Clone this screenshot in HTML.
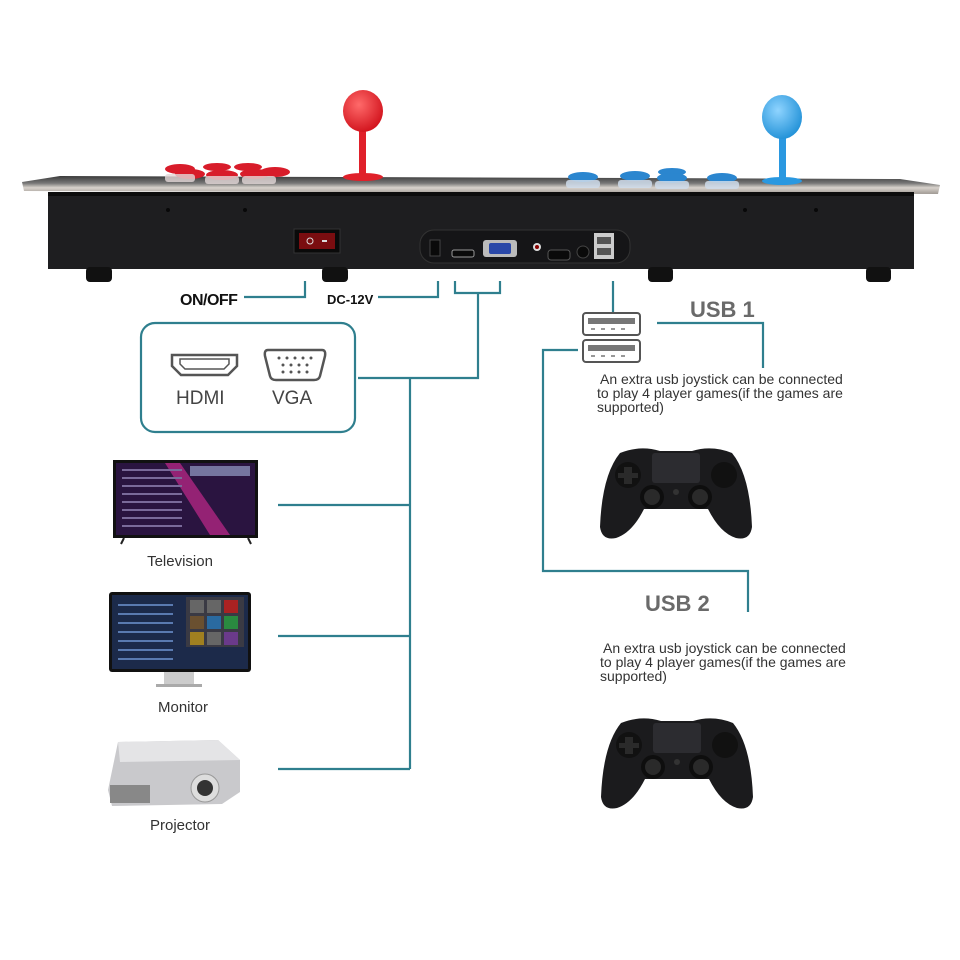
<!DOCTYPE html>
<html><head><meta charset="utf-8"><style>
html,body{margin:0;padding:0;background:#fff;}
svg{display:block;}
text{font-family:"Liberation Sans",sans-serif;}
</style></head><body>
<svg width="960" height="960" viewBox="0 0 960 960" xmlns="http://www.w3.org/2000/svg">
<defs>
<linearGradient id="silver" x1="0" y1="0" x2="0" y2="1">
<stop offset="0" stop-color="#3a3a3a"/><stop offset="0.4" stop-color="#777"/><stop offset="0.65" stop-color="#d8d2cc"/><stop offset="1" stop-color="#a09a94"/></linearGradient>
<radialGradient id="red" cx="0.4" cy="0.35" r="0.7"><stop offset="0" stop-color="#ff6a6a"/><stop offset="1" stop-color="#d0101a"/></radialGradient>
<radialGradient id="blue" cx="0.4" cy="0.35" r="0.7"><stop offset="0" stop-color="#8fd4ff"/><stop offset="1" stop-color="#1e8fd6"/></radialGradient>
<g id="pad">
<path d="M20,8 Q40,0 60,6 L92,6 Q112,0 132,8 Q150,30 152,82 Q150,96 136,93 Q120,88 108,64 L44,64 Q32,88 16,93 Q2,96 0,82 Q2,30 20,8 Z" fill="#1b1b1d"/>
<rect x="52" y="8" width="48" height="30" rx="3" fill="#2c2c30"/>
<circle cx="28" cy="30" r="13" fill="#111"/><path d="M24,22h8v6h6v5h-6v6h-8v-6h-6v-5h6z" fill="#2a2a2a"/>
<circle cx="124" cy="30" r="13" fill="#111"/>
<circle cx="52" cy="52" r="12" fill="#0e0e0e"/><circle cx="52" cy="52" r="8" fill="#2a2a2a"/>
<circle cx="100" cy="52" r="12" fill="#0e0e0e"/><circle cx="100" cy="52" r="8" fill="#2a2a2a"/>
<circle cx="76" cy="47" r="3" fill="#333"/>
</g>
<g id="usb"><rect x="0" y="0" width="57" height="22" rx="3" fill="#fff" stroke="#555" stroke-width="2"/><rect x="5" y="5" width="47" height="6" fill="#777"/><path d="M8,16h4M18,16h4M28,16h4M38,16h4" stroke="#777" stroke-width="1.5"/></g>
</defs>

<!-- console top -->
<path d="M22,182 L60,176 L900,179 L940,185 L938,194 L24,191 Z" fill="url(#silver)"/>
<!-- red buttons -->
<g fill="#d81c2a">
<ellipse cx="180" cy="169" rx="15" ry="5"/><ellipse cx="217" cy="167" rx="14" ry="4"/><ellipse cx="248" cy="167" rx="14" ry="4"/>
<ellipse cx="190" cy="174" rx="15" ry="5"/><ellipse cx="222" cy="175" rx="16" ry="5"/><ellipse cx="255" cy="174" rx="15" ry="5"/><ellipse cx="275" cy="172" rx="15" ry="5"/>
</g>
<g fill="#e4d8d8" opacity="0.8"><rect x="165" y="174" width="30" height="8" rx="3"/><rect x="205" y="176" width="34" height="8" rx="3"/><rect x="242" y="176" width="34" height="8" rx="3"/></g>
<!-- blue buttons -->
<g fill="#2b86cf">
<ellipse cx="583" cy="177" rx="15" ry="5"/><ellipse cx="635" cy="176" rx="15" ry="5"/><ellipse cx="672" cy="172" rx="14" ry="4"/><ellipse cx="672" cy="178" rx="15" ry="5"/><ellipse cx="722" cy="178" rx="15" ry="5"/>
</g>
<g fill="#cfdceb" opacity="0.85"><rect x="566" y="180" width="34" height="8" rx="3"/><rect x="618" y="180" width="34" height="8" rx="3"/><rect x="655" y="181" width="34" height="8" rx="3"/><rect x="705" y="181" width="34" height="8" rx="3"/></g>
<!-- joysticks -->
<rect x="359" y="122" width="7" height="55" fill="#e0202a"/><ellipse cx="363" cy="177" rx="20" ry="4" fill="#e0202a"/>
<ellipse cx="363" cy="111" rx="20" ry="21" fill="url(#red)"/>
<rect x="779" y="127" width="7" height="55" fill="#2a98e0"/><ellipse cx="782" cy="181" rx="20" ry="4" fill="#2a98e0"/>
<ellipse cx="782" cy="117" rx="20" ry="22" fill="url(#blue)"/>
<!-- black box -->
<rect x="48" y="192" width="866" height="77" fill="#1e1e20"/>
<rect x="48" y="192" width="866" height="4" fill="#0c0c0c"/>
<g fill="#111"><rect x="86" y="267" width="26" height="15" rx="4"/><rect x="322" y="267" width="26" height="15" rx="4"/><rect x="648" y="267" width="25" height="15" rx="4"/><rect x="866" y="267" width="25" height="15" rx="4"/></g>
<g fill="#080808"><circle cx="168" cy="210" r="2"/><circle cx="245" cy="210" r="2"/><circle cx="745" cy="210" r="2"/><circle cx="816" cy="210" r="2"/></g>
<!-- switch -->
<rect x="294" y="229" width="46" height="24" fill="#0a0a0a" stroke="#333"/>
<rect x="299" y="233" width="36" height="16" fill="#7a0d10"/>
<circle cx="310" cy="241" r="3" fill="none" stroke="#ddd"/><rect x="322" y="240" width="5" height="2" fill="#ddd"/>
<!-- port panel -->
<rect x="420" y="230" width="210" height="33" rx="14" fill="#151517" stroke="#333"/>
<rect x="430" y="240" width="10" height="16" fill="#0a0a0a" stroke="#444"/>
<rect x="452" y="250" width="22" height="7" rx="2" fill="#0a0a0a" stroke="#999"/>
<rect x="483" y="240" width="34" height="17" rx="3" fill="#bbb"/><rect x="489" y="243" width="22" height="11" rx="2" fill="#2a48a8"/>
<circle cx="537" cy="247" r="4" fill="#ddd"/><circle cx="537" cy="247" r="2" fill="#800"/>
<rect x="548" y="250" width="22" height="10" rx="3" fill="#0a0a0a" stroke="#555"/>
<circle cx="583" cy="252" r="6" fill="#0a0a0a" stroke="#444"/>
<rect x="594" y="233" width="20" height="26" fill="#ccc"/><rect x="597" y="237" width="14" height="7" fill="#555"/><rect x="597" y="248" width="14" height="7" fill="#555"/>

<!-- connectors -->
<g fill="none" stroke="#2f7f8e" stroke-width="2.2">
<path d="M244,297 H305 V281"/>
<path d="M378,297 H438 V281"/>
<path d="M455,281 V293 H500 V281"/>
<path d="M478,293 V378 H358"/>
<path d="M410,378 V769"/>
<path d="M278,505 H410 M278,636 H410 M278,769 H410"/>
<path d="M613,281 V313"/>
<path d="M657,323 H763 V368"/>
<path d="M578,350 H543 V571 H748 V612"/>
</g>
<text x="180" y="305" font-size="16" font-weight="bold" fill="#111" style="letter-spacing:-0.5px">ON/OFF</text>
<text x="327" y="304" font-size="13" font-weight="bold" fill="#111">DC-12V</text>

<!-- HDMI VGA box -->
<rect x="141" y="323" width="214" height="109" rx="14" fill="#fff" stroke="#2f7f8e" stroke-width="2.2"/>
<path d="M172,355 H237 V366 L228,375 H181 L172,366 Z" fill="none" stroke="#555" stroke-width="2.5"/>
<path d="M180,359 H229 V364 L224,369 H185 L180,364 Z" fill="none" stroke="#555" stroke-width="1.5"/>
<path d="M268,350 H322 Q326,350 325,356 L320,376 Q319,380 314,380 H276 Q271,380 270,376 L265,356 Q264,350 268,350 Z" fill="none" stroke="#555" stroke-width="2.5"/>
<g fill="#555"><circle cx="279" cy="358" r="1.5"/><circle cx="287" cy="358" r="1.5"/><circle cx="295" cy="358" r="1.5"/><circle cx="303" cy="358" r="1.5"/><circle cx="311" cy="358" r="1.5"/>
<circle cx="283" cy="365" r="1.5"/><circle cx="291" cy="365" r="1.5"/><circle cx="299" cy="365" r="1.5"/><circle cx="307" cy="365" r="1.5"/>
<circle cx="283" cy="372" r="1.5"/><circle cx="291" cy="372" r="1.5"/><circle cx="299" cy="372" r="1.5"/><circle cx="307" cy="372" r="1.5"/></g>
<text x="176" y="404" font-size="19" fill="#444">HDMI</text>
<text x="272" y="404" font-size="19" fill="#444">VGA</text>

<!-- USB -->
<use href="#usb" x="583" y="313"/>
<use href="#usb" x="583" y="340"/>
<text x="690" y="317" font-size="22" font-weight="bold" fill="#6a6a6a">USB 1</text>
<text x="645" y="611" font-size="22" font-weight="bold" fill="#6a6a6a">USB 2</text>
<g font-size="14" fill="#333">
<text x="600" y="384"> An extra usb joystick can be connected</text>
<text x="597" y="398">to play 4 player games(if the games are</text>
<text x="597" y="412">supported)</text>
<text x="603" y="653"> An extra usb joystick can be connected</text>
<text x="600" y="667">to play 4 player games(if the games are</text>
<text x="600" y="681">supported)</text>
</g>
<use href="#pad" x="600" y="445"/>
<use href="#pad" x="601" y="715"/>

<!-- TV -->
<rect x="113" y="460" width="145" height="78" fill="#111"/>
<rect x="116" y="463" width="139" height="72" fill="#2a1440"/>
<path d="M180,463 L230,535 L210,535 L165,463 Z" fill="#c2288a" opacity="0.7"/>
<rect x="190" y="466" width="60" height="10" fill="#a9b5e0" opacity="0.6"/>
<g stroke="#7a6a9a" stroke-width="2"><path d="M122,470h60M122,478h60M122,486h60M122,494h60M122,502h60M122,510h60M122,518h60M122,526h60"/></g>
<path d="M124,538 l-3,6 M248,538 l3,6" stroke="#222" stroke-width="2"/>
<text x="180" y="566" font-size="15" fill="#333" text-anchor="middle">Television</text>

<!-- Monitor -->
<rect x="109" y="592" width="142" height="80" rx="3" fill="#111"/>
<rect x="112" y="595" width="136" height="74" fill="#1c2a4a"/>
<rect x="186" y="597" width="58" height="50" fill="#3a3a44"/>
<g fill="#666"><rect x="190" y="600" width="14" height="13"/><rect x="207" y="600" width="14" height="13"/><rect x="224" y="600" width="14" height="13" fill="#a22"/><rect x="190" y="616" width="14" height="13" fill="#6a5030"/><rect x="207" y="616" width="14" height="13" fill="#2a6aa0"/><rect x="224" y="616" width="14" height="13" fill="#2a8a40"/><rect x="190" y="632" width="14" height="13" fill="#a08020"/><rect x="207" y="632" width="14" height="13"/><rect x="224" y="632" width="14" height="13" fill="#6a3a8a"/></g>
<g stroke="#5a7ab0" stroke-width="2"><path d="M118,605h55M118,614h55M118,623h55M118,632h55M118,641h55M118,650h55M118,659h55"/></g>
<rect x="164" y="672" width="30" height="12" fill="#ccc"/><rect x="156" y="684" width="46" height="3" fill="#aaa"/>
<text x="183" y="712" font-size="15" fill="#333" text-anchor="middle">Monitor</text>

<!-- Projector -->
<path d="M118,742 L218,740 L240,760 L240,792 L222,804 L112,806 L108,790 Z" fill="#c9c9cc"/>
<path d="M118,742 L218,740 L240,760 L120,762 Z" fill="#e4e4e6"/>
<rect x="110" y="785" width="40" height="18" fill="#888"/>
<circle cx="205" cy="788" r="14" fill="#ddd" stroke="#999"/><circle cx="205" cy="788" r="8" fill="#333"/>
<text x="180" y="830" font-size="15" fill="#333" text-anchor="middle">Projector</text>
</svg>
</body></html>
